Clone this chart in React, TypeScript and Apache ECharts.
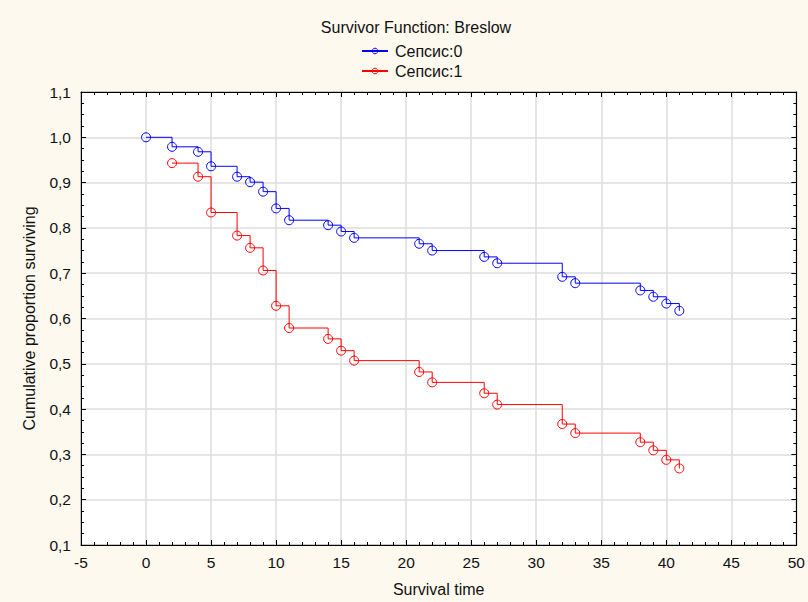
import React, { useEffect, useRef } from "react";
import * as echarts from "echarts";

const titleText = "Survivor Function: Breslow";
const seriesNames = ["Сепсис:0", "Сепсис:1"];
const seriesColors = ["#0000ff", "#ff0000"];

const times0 = [0, 2, 4, 5, 7, 8, 9, 10, 11, 14, 15, 16, 21, 22, 26, 27, 32, 33, 38, 39, 40, 41];
const surv0 = [1.0, 0.979, 0.968, 0.936, 0.913, 0.901, 0.88, 0.843, 0.817, 0.806, 0.792, 0.778, 0.765, 0.75, 0.736, 0.722, 0.692, 0.678, 0.662, 0.648, 0.633, 0.617];

const times1 = [2, 4, 5, 7, 8, 9, 10, 11, 14, 15, 16, 21, 22, 26, 27, 32, 33, 38, 39, 40, 41];
const surv1 = [0.943, 0.913, 0.834, 0.783, 0.756, 0.706, 0.628, 0.579, 0.555, 0.529, 0.507, 0.482, 0.459, 0.435, 0.41, 0.367, 0.347, 0.327, 0.309, 0.288, 0.269];

const xMin = -5, xMax = 50, xStep = 5;
const yMin = 0.1, yMax = 1.1, yStep = 0.1;

const FONT = "'Liberation Sans', Arial, sans-serif";
const TXT = "#111";

export default function App() {
  const ref = useRef<HTMLDivElement>(null);
  useEffect(() => {
    if (!ref.current) return;
    const chart = echarts.init(ref.current, undefined, { renderer: "svg" });
    const fmtY = (v: number) => v.toFixed(1).replace(".", ",");
    const axisTick = { show: true, inside: true, length: 5, lineStyle: { color: "#000", width: 1 } };
    const minorTickBase = { show: true, length: 3, lineStyle: { color: "#000", width: 1 } };
    const axisLine = { show: true, onZero: false, lineStyle: { color: "#000", width: 1 } };
    const grid = { show: true, lineStyle: { color: "#dcdcdc", width: 1.5 } };
    const mkSeries = (name: string, ts: number[], vs: number[], col: string) => ({
      name,
      type: "line",
      step: "end",
      data: ts.map((t, i) => [t, vs[i]]),
      symbol: "circle",
      symbolSize: 9,
      color: col,
      lineStyle: { color: col, width: 1 },
      itemStyle: { color: "rgba(255,255,255,0)", borderColor: col, borderWidth: 1 },
      z: 3,
    });
    chart.setOption({
      animation: false,
      backgroundColor: "#fdf9ee",
      textStyle: { fontFamily: FONT },
      title: {
        text: titleText,
        left: 411,
        top: 14,
        textAlign: "center",
        textStyle: { fontFamily: FONT, fontSize: 16, fontWeight: "normal", color: TXT },
      },
      legend: {
        orient: "vertical",
        left: 361,
        top: 43,
        padding: 0,
        itemWidth: 26,
        itemHeight: 7,
        itemGap: 4,
        textStyle: { fontFamily: FONT, fontSize: 16, color: TXT, padding: [0, 0, 0, 2] },
        data: seriesNames.map((n, i) => ({
          name: n,
          itemStyle: { color: "rgba(255,255,255,0)", borderColor: seriesColors[i], borderWidth: 1 },
        })),
      },
      grid: { left: 81, right: 11, top: 92, bottom: 56, show: true, backgroundColor: "#fff", borderColor: "#000", borderWidth: 1 },
      xAxis: [
        {
          type: "value",
          min: xMin,
          max: xMax,
          interval: xStep,
          name: "Survival time",
          nameLocation: "middle",
          nameGap: 36,
          nameTextStyle: { fontFamily: FONT, fontSize: 16, color: TXT },
          axisLabel: { fontFamily: FONT, fontSize: 15.5, color: TXT, margin: 9 },
          splitLine: grid,
          minorTick: { ...minorTickBase, splitNumber: 5 },
          axisTick,
          axisLine,
        },
        {
          type: "value",
          position: "top",
          min: xMin,
          max: xMax,
          interval: xStep,
          axisLabel: { show: false },
          splitLine: { show: false },
          minorTick: { ...minorTickBase, splitNumber: 5 },
          axisTick,
          axisLine,
        },
      ],
      yAxis: [
        {
          type: "value",
          min: yMin,
          max: yMax,
          interval: yStep,
          name: "Cumulative proportion surviving",
          nameLocation: "middle",
          nameGap: 44,
          nameTextStyle: { fontFamily: FONT, fontSize: 16, color: TXT },
          axisLabel: { fontFamily: FONT, fontSize: 15.5, color: TXT, margin: 10, formatter: fmtY },
          splitLine: grid,
          minorTick: { ...minorTickBase, splitNumber: 4 },
          axisTick,
          axisLine,
        },
        {
          type: "value",
          position: "right",
          min: yMin,
          max: yMax,
          interval: yStep,
          axisLabel: { show: false },
          splitLine: { show: false },
          minorTick: { ...minorTickBase, splitNumber: 4 },
          axisTick,
          axisLine,
        },
      ],
      series: [
        mkSeries(seriesNames[0], times0, surv0, seriesColors[0]),
        mkSeries(seriesNames[1], times1, surv1, seriesColors[1]),
      ],
    });
    return () => chart.dispose();
  }, []);
  return <div ref={ref} style={{ width: 808, height: 602, position: "absolute", left: 0, top: 0 }} />;
}
